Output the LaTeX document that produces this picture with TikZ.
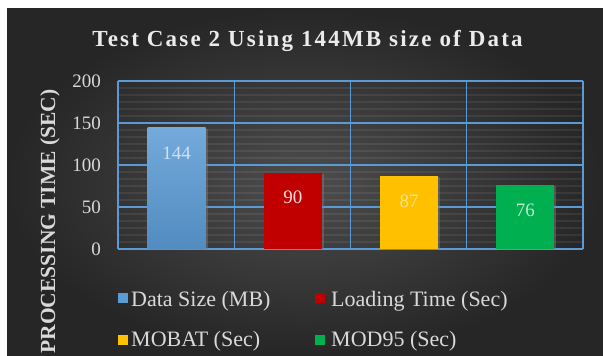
\documentclass[tikz,border=0pt]{standalone}
\usepackage{fontspec}
\setmainfont{Liberation Serif}
\newfontfamily\titlefont[LetterSpace=9.5]{Liberation Serif Bold}
\usetikzlibrary{shadows}
\definecolor{bgmid}{HTML}{4D4D4D}
\definecolor{bgedge}{HTML}{262626}
\definecolor{gridblue}{HTML}{5B9BD5}
\definecolor{sizeblue}{HTML}{5B9BD5}
\definecolor{loadred}{HTML}{C00000}
\definecolor{mobatyellow}{HTML}{FFC000}
\definecolor{modgreen}{HTML}{00B050}
\definecolor{txtgray}{HTML}{D9D9D9}

\begin{document}
\begin{tikzpicture}[x=1pt,y=1pt,
        bar/.style={anchor=south, minimum width=58pt, inner sep=0pt, draw=none,
            drop shadow={shadow xshift=2pt, shadow yshift=-1pt, opacity=0.45}},
        barlabel/.style={inner sep=0pt, font=\fontsize{19}{22}\selectfont},
        ticklabel/.style={anchor=east, inner sep=0pt, text=txtgray, font=\fontsize{19}{22}\selectfont},
        legendkey/.style={minimum size=10pt, inner sep=0pt, anchor=south west},
        legendtext/.style={anchor=base west, inner sep=0pt, text=txtgray, font=\fontsize{22}{26}\selectfont}]
        \tikzstyle{every node}+=[inner sep=0pt]
        \useasboundingbox (0,0) rectangle (603,356);
        \fill [white] (0,0) rectangle (603,356);
        \shade [inner color=bgmid, outer color=bgedge] (7,0) rectangle (603,347);
        % title and axis title
        \node (title) at (307.5,315) {\titlefont\fontsize{23}{27}\selectfont\color{white!92!black}Test Case 2 Using 144MB size of Data};
        \node [rotate=90, text=txtgray, font=\bfseries\fontsize{21.5}{25}\selectfont] (ytitle) at (50,134.5) {PROCESSING TIME (SEC)};
        % faint stripes
        \foreach \s in {1,...,23}
            \draw [white, opacity=0.07, line width=2pt] (118,107+\s*7) -- (583,107+\s*7);
        % grid
        \foreach \v in {0,50,100,150,200}
            \draw [gridblue, line width=1.4pt] (118,107+0.84*\v) -- (583,107+0.84*\v);
        \foreach \g in {0,1,2,3,4}
            \draw [gridblue, line width=1.4pt] (118+116.25*\g,107) -- (118+116.25*\g,275);
        % ticks
        \node [ticklabel] (t0) at (101,107) {0};
        \node [ticklabel] (t50) at (101,149) {50};
        \node [ticklabel] (t100) at (101,191) {100};
        \node [ticklabel] (t150) at (101,233) {150};
        \node [ticklabel] (t200) at (101,275) {200};
        % bars
        \node [bar, top color=sizeblue!85!white, bottom color=sizeblue!90!black, minimum height=0.84*144pt] (size) at (176.5,107) {};
        \node [bar, fill=loadred, minimum height=0.84*90pt] (load) at (292.75,107) {};
        \node [bar, fill=mobatyellow, minimum height=0.84*87pt] (mobat) at (409,107) {};
        \node [bar, fill=modgreen, minimum height=0.84*76pt] (mod) at (525.25,107) {};
        \node [barlabel, text=sizeblue!30!white] (sizeval) at ([yshift=-26pt]size.north) {144};
        \node [barlabel, text=loadred!12!white] (loadval) at ([yshift=-24pt]load.north) {90};
        \node [barlabel, text=mobatyellow!45!white] (mobatval) at ([yshift=-26pt]mobat.north) {87};
        \node [barlabel, text=modgreen!25!white] (modval) at ([yshift=-26pt]mod.north) {76};
        % legend
        \node [legendkey, fill=sizeblue] (ksize) at (118,53) {};
        \node [legendtext] (lsize) at (131,49) {Data Size (MB)};
        \node [legendkey, fill=loadred] (kload) at (315,53) {};
        \node [legendtext] (lload) at (331,49) {Loading Time (Sec)};
        \node [legendkey, fill=mobatyellow] (kmobat) at (118,11) {};
        \node [legendtext] (lmobat) at (131,9) {MOBAT (Sec)};
        \node [legendkey, fill=modgreen] (kmod) at (315,11) {};
        \node [legendtext] (lmod) at (331,9) {MOD95 (Sec)};
\end{tikzpicture}
\end{document}
